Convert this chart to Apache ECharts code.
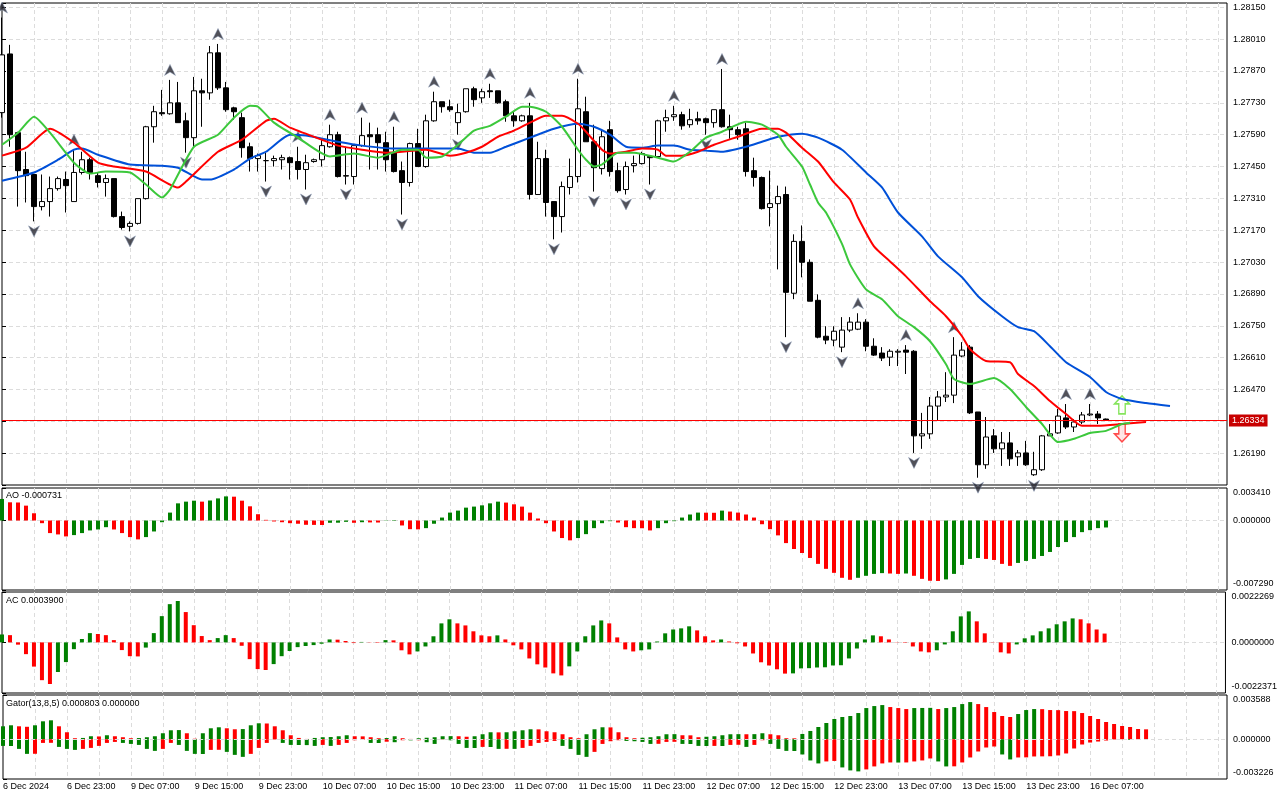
<!DOCTYPE html>
<html>
<head>
<meta charset="utf-8">
<title>H1 Alligator AO AC Gator</title>
<script src="https://cdn.jsdelivr.net/npm/echarts@6.0.0/dist/echarts.min.js"></script>
<style>
    html, body { margin: 0; padding: 0; background: #fff; }
    #charts { width: 1280px; height: 800px; }
</style>
</head>
<body>
<div id="charts"></div>
<script>

// time labels, one every 8 bars (H1)
var timeLabels = ['6 Dec 2024', '6 Dec 23:00', '9 Dec 07:00', '9 Dec 15:00', '9 Dec 23:00',
    '10 Dec 07:00', '10 Dec 15:00', '10 Dec 23:00', '11 Dec 07:00', '11 Dec 15:00', '11 Dec 23:00',
    '12 Dec 07:00', '12 Dec 15:00', '12 Dec 23:00', '13 Dec 07:00', '13 Dec 15:00', '13 Dec 23:00',
    '16 Dec 07:00'];

var priceTicks = ['1.28150', '1.28010', '1.27870', '1.27730', '1.27590', '1.27450', '1.27310',
    '1.27170', '1.27030', '1.26890', '1.26750', '1.26610', '1.26470', '1.26190'];

var openP = [
    1.27687, 1.27945, 1.27599, 1.27437, 1.27415, 1.27274, 1.27296, 1.27353, 1.27393, 1.27296,
    1.27424, 1.27480, 1.27410, 1.27380, 1.27397, 1.27230, 1.27187, 1.27200, 1.27309, 1.27625,
    1.27687, 1.27682, 1.27730, 1.27651, 1.27577, 1.27783, 1.27774, 1.27950, 1.27796, 1.27708,
    1.27665, 1.27537, 1.27485, 1.27476, 1.27476, 1.27480, 1.27489, 1.27472, 1.27437, 1.27472,
    1.27480, 1.27537, 1.27590, 1.27410, 1.27406, 1.27542, 1.27590, 1.27590, 1.27555, 1.27511,
    1.27432, 1.27380, 1.27551, 1.27450, 1.27651, 1.27735, 1.27713, 1.27643, 1.27691, 1.27792,
    1.27752, 1.27783, 1.27783, 1.27735, 1.27673, 1.27651, 1.27673, 1.27327, 1.27485, 1.27296,
    1.27230, 1.27358, 1.27406, 1.27691, 1.27559, 1.27441, 1.27612, 1.27432, 1.27349, 1.27454,
    1.27463, 1.27494, 1.27494, 1.27651, 1.27669, 1.27678, 1.27634, 1.27660, 1.27660, 1.27643,
    1.27700, 1.27625, 1.27612, 1.27616, 1.27432, 1.27402, 1.27270, 1.27287, 1.27327, 1.26893,
    1.27121, 1.27029, 1.26862, 1.26704, 1.26687, 1.26656, 1.26731, 1.26735, 1.26766, 1.26660,
    1.26630, 1.26612, 1.26634, 1.26643, 1.26638, 1.26266, 1.26275, 1.26397, 1.26437, 1.26445,
    1.26617, 1.26656, 1.26371, 1.26139, 1.26266, 1.26209, 1.26235, 1.26174, 1.26191, 1.26095,
    1.26117, 1.26266, 1.26279, 1.26345, 1.26305, 1.26327, 1.26358, 1.26362, 1.26340
];
var highP = [
    1.28105, 1.27985, 1.27603, 1.27515, 1.27415, 1.27415, 1.27406, 1.27406, 1.27428, 1.27524,
    1.27515, 1.27489, 1.27424, 1.27415, 1.27397, 1.27252, 1.27209, 1.27309, 1.27629, 1.27717,
    1.27787, 1.27831, 1.27822, 1.27687, 1.27844, 1.27836, 1.27980, 1.27989, 1.27822, 1.27713,
    1.27687, 1.27555, 1.27507, 1.27511, 1.27498, 1.27502, 1.27494, 1.27537, 1.27502, 1.27485,
    1.27568, 1.27634, 1.27603, 1.27537, 1.27542, 1.27665, 1.27643, 1.27621, 1.27603, 1.27625,
    1.27472, 1.27555, 1.27616, 1.27678, 1.27779, 1.27735, 1.27744, 1.27726, 1.27792, 1.27801,
    1.27792, 1.27814, 1.27783, 1.27744, 1.27691, 1.27678, 1.27730, 1.27559, 1.27524, 1.27296,
    1.27384, 1.27485, 1.27836, 1.27757, 1.27634, 1.27612, 1.27651, 1.27467, 1.27472, 1.27498,
    1.27515, 1.27498, 1.27656, 1.27700, 1.27717, 1.27691, 1.27704, 1.27691, 1.27665, 1.27700,
    1.27879, 1.27678, 1.27625, 1.27643, 1.27489, 1.27406, 1.27432, 1.27366, 1.27362, 1.27152,
    1.27191, 1.27042, 1.26888, 1.26748, 1.26748, 1.26788, 1.26788, 1.26805, 1.26779, 1.26695,
    1.26656, 1.26647, 1.26647, 1.26665, 1.26643, 1.26367, 1.26437, 1.26463, 1.26546, 1.26700,
    1.26678, 1.26665, 1.26371, 1.26349, 1.26296, 1.26283, 1.26283, 1.26204, 1.26244, 1.26196,
    1.26270, 1.26318, 1.26384, 1.26406, 1.26340, 1.26371, 1.26406, 1.26375, 1.26342
];
var lowP = [
    1.27665, 1.27537, 1.27274, 1.27292, 1.27209, 1.27257, 1.27230, 1.27344, 1.27248, 1.27296,
    1.27415, 1.27393, 1.27358, 1.27318, 1.27226, 1.27173, 1.27165, 1.27195, 1.27305, 1.27555,
    1.27673, 1.27678, 1.27643, 1.27511, 1.27537, 1.27625, 1.27744, 1.27787, 1.27691, 1.27656,
    1.27489, 1.27428, 1.27428, 1.27384, 1.27450, 1.27437, 1.27393, 1.27393, 1.27349, 1.27467,
    1.27450, 1.27533, 1.27402, 1.27371, 1.27371, 1.27537, 1.27437, 1.27437, 1.27428, 1.27424,
    1.27239, 1.27362, 1.27450, 1.27445, 1.27647, 1.27687, 1.27691, 1.27590, 1.27687, 1.27713,
    1.27730, 1.27752, 1.27726, 1.27647, 1.27625, 1.27647, 1.27305, 1.27327, 1.27230, 1.27130,
    1.27160, 1.27327, 1.27380, 1.27559, 1.27340, 1.27415, 1.27406, 1.27335, 1.27327, 1.27424,
    1.27459, 1.27371, 1.27489, 1.27603, 1.27651, 1.27612, 1.27621, 1.27634, 1.27590, 1.27621,
    1.27621, 1.27572, 1.27568, 1.27406, 1.27362, 1.27261, 1.27187, 1.26998, 1.26700, 1.26867,
    1.26963, 1.26858, 1.26695, 1.26669, 1.26660, 1.26634, 1.26722, 1.26731, 1.26638, 1.26617,
    1.26595, 1.26573, 1.26573, 1.26538, 1.26191, 1.26209, 1.26253, 1.26332, 1.26415, 1.26410,
    1.26612, 1.26362, 1.26082, 1.26121, 1.26191, 1.26134, 1.26134, 1.26134, 1.26134, 1.26090,
    1.26112, 1.26266, 1.26275, 1.26296, 1.26283, 1.26318, 1.26353, 1.26318, 1.26334
];
var closeP = [
    1.27941, 1.27590, 1.27432, 1.27410, 1.27274, 1.27296, 1.27353, 1.27397, 1.27366, 1.27424,
    1.27480, 1.27424, 1.27380, 1.27397, 1.27230, 1.27182, 1.27200, 1.27309, 1.27625, 1.27691,
    1.27682, 1.27730, 1.27643, 1.27577, 1.27783, 1.27774, 1.27950, 1.27796, 1.27700, 1.27691,
    1.27533, 1.27485, 1.27498, 1.27476, 1.27485, 1.27489, 1.27467, 1.27437, 1.27467, 1.27480,
    1.27542, 1.27590, 1.27406, 1.27408, 1.27542, 1.27586, 1.27581, 1.27555, 1.27480, 1.27428,
    1.27380, 1.27551, 1.27450, 1.27651, 1.27735, 1.27713, 1.27700, 1.27687, 1.27792, 1.27744,
    1.27779, 1.27779, 1.27730, 1.27673, 1.27651, 1.27673, 1.27327, 1.27485, 1.27292, 1.27230,
    1.27362, 1.27406, 1.27704, 1.27559, 1.27445, 1.27581, 1.27428, 1.27344, 1.27450, 1.27463,
    1.27507, 1.27489, 1.27651, 1.27665, 1.27678, 1.27629, 1.27656, 1.27651, 1.27643, 1.27700,
    1.27625, 1.27612, 1.27590, 1.27428, 1.27402, 1.27265, 1.27287, 1.27318, 1.26897, 1.27121,
    1.27029, 1.26858, 1.26700, 1.26687, 1.26726, 1.26731, 1.26766, 1.26766, 1.26660, 1.26621,
    1.26608, 1.26638, 1.26638, 1.26634, 1.26266, 1.26275, 1.26397, 1.26437, 1.26445, 1.26621,
    1.26643, 1.26367, 1.26139, 1.26261, 1.26209, 1.26235, 1.26165, 1.26191, 1.26139, 1.26117,
    1.26266, 1.26275, 1.26353, 1.26305, 1.26327, 1.26358, 1.26362, 1.26345, 1.26334
];
var lastPrice = 1.26334;

// alligator lines (jaw / teeth / lips), already shifted forward
var jawPts = [[0,1.27388],[4,1.27424],[7,1.27480],[9,1.27524],[10,1.27529],[12,1.27502],[16,1.27459],
    [20,1.27454],[22,1.27445],[25,1.27393],[26,1.27393],[29,1.27437],[31,1.27485],[33,1.27515],
    [36,1.27590],[38,1.27586],[42,1.27559],[45,1.27542],[49,1.27529],[57,1.27529],[59,1.27511],
    [61,1.27511],[63,1.27537],[66,1.27577],[69,1.27616],[72,1.27638],[74,1.27625],[76,1.27590],
    [78,1.27537],[80,1.27533],[82,1.27542],[84,1.27542],[86,1.27524],[88,1.27520],[90,1.27515],
    [93,1.27537],[95,1.27559],[97,1.27581],[100,1.27594],[102,1.27577],[105,1.27524],[108,1.27424],
    [110,1.27358],[112,1.27248],[115,1.27143],[117,1.27055],[120,1.26963],[122,1.26880],[125,1.26792],
    [127,1.26744],[129,1.26726],[131,1.26660],[133,1.26590],[136,1.26525],[138,1.26459],[140,1.26428],
    [143,1.26410],[146,1.26397]];
var teethPts = [[0,1.27498],[3,1.27533],[6,1.27616],[9,1.27555],[12,1.27467],[14,1.27450],[18,1.27428],
    [22,1.27358],[23,1.27384],[27,1.27515],[30,1.27568],[33,1.27651],[34,1.27660],[36,1.27621],
    [40,1.27568],[42,1.27542],[45,1.27524],[48,1.27511],[50,1.27515],[53,1.27524],[56,1.27498],
    [58,1.27511],[60,1.27537],[62,1.27581],[64,1.27608],[66,1.27643],[68,1.27673],[70,1.27673],
    [72,1.27638],[73,1.27603],[75,1.27524],[76,1.27507],[78,1.27515],[80,1.27529],[82,1.27524],
    [83,1.27498],[85,1.27498],[87,1.27515],[89,1.27546],[92,1.27581],[95,1.27616],[97,1.27616],
    [98,1.27599],[100,1.27533],[102,1.27472],[104,1.27380],[106,1.27305],[107,1.27226],[109,1.27099],
    [111,1.27033],[113,1.26967],[116,1.26858],[118,1.26792],[120,1.26704],[121,1.26647],[123,1.26595],
    [126,1.26590],[127,1.26538],[129,1.26485],[131,1.26419],[133,1.26362],[135,1.26310],[137,1.26310],
    [140,1.26318],[143,1.26327]];
var lipsPts = [[0,1.27546],[2,1.27599],[4,1.27669],[6,1.27599],[9,1.27467],[11,1.27419],[13,1.27428],
    [16,1.27424],[18,1.27371],[20,1.27314],[21,1.27349],[24,1.27537],[27,1.27590],[29,1.27665],
    [31,1.27717],[32,1.27713],[34,1.27643],[37,1.27577],[41,1.27494],[44,1.27507],[47,1.27489],
    [50,1.27524],[52,1.27524],[53,1.27489],[55,1.27494],[57,1.27546],[59,1.27608],[61,1.27629],
    [63,1.27669],[65,1.27713],[66,1.27713],[68,1.27691],[70,1.27625],[72,1.27524],[73,1.27480],
    [74,1.27450],[75,1.27459],[77,1.27511],[79,1.27511],[82,1.27489],[84,1.27472],[86,1.27515],
    [88,1.27577],[90,1.27603],[93,1.27647],[95,1.27634],[97,1.27590],[98,1.27537],[100,1.27450],
    [101,1.27371],[102,1.27292],[103,1.27248],[105,1.27110],[106,1.27020],[108,1.26910],[110,1.26867],
    [112,1.26792],[114,1.26744],[116,1.26682],[118,1.26581],[119,1.26516],[121,1.26494],[124,1.26520],
    [126,1.26472],[128,1.26393],[130,1.26318],[132,1.26239],[134,1.26253],[136,1.26279],[138,1.26288],
    [140,1.26318],[141,1.26323]];

var fractalUp = [0, 9, 21, 27, 37, 41, 45, 49, 54, 61, 66, 72, 84, 90, 107, 113, 119, 133, 136];
var fractalDown = [4, 16, 23, 33, 38, 43, 50, 57, 69, 74, 78, 81, 88, 98, 105, 114, 122, 129];
var signalUp = [[140, 1.26402]];
var signalDown = [[140, 1.26279]];

var aoValues = [
    0.00226, 0.00191, 0.00189, 0.00156, 0.00076, -0.00028, -0.00132, -0.00146, -0.00167, -0.00153,
    -0.00132, -0.00104, -0.00094, -0.00070, -0.00094, -0.00132, -0.00174, -0.00198, -0.00174, -0.00115,
    -0.00018, 0.00083, 0.00180, 0.00198, 0.00208, 0.00198, 0.00210, 0.00232, 0.00253, 0.00250,
    0.00208, 0.00149, 0.00066, 0.00007, -0.00010, -0.00018, -0.00028, -0.00034, -0.00045, -0.00046,
    -0.00047, -0.00024, -0.00023, -0.00014, -0.00024, -0.00018, -0.00020, -0.00021, -0.00003, 0.00005,
    -0.00052, -0.00091, -0.00093, -0.00080, -0.00034, 0.00031, 0.00083, 0.00104, 0.00135, 0.00146,
    0.00159, 0.00180, 0.00198, 0.00188, 0.00170, 0.00146, 0.00083, 0.00021, -0.00028, -0.00115,
    -0.00184, -0.00208, -0.00184, -0.00143, -0.00080, -0.00028, -0.00007, -0.00021, -0.00070, -0.00080,
    -0.00081, -0.00104, -0.00080, -0.00028, -0.00007, 0.00031, 0.00063, 0.00083, 0.00082, 0.00081,
    0.00104, 0.00094, 0.00083, 0.00063, 0.00031, -0.00039, -0.00091, -0.00156, -0.00237, -0.00299,
    -0.00341, -0.00393, -0.00455, -0.00507, -0.00549, -0.00601, -0.00622, -0.00601, -0.00580, -0.00560,
    -0.00552, -0.00556, -0.00560, -0.00556, -0.00580, -0.00612, -0.00632, -0.00634, -0.00618, -0.00560,
    -0.00466, -0.00403, -0.00393, -0.00403, -0.00414, -0.00455, -0.00476, -0.00445, -0.00424, -0.00403,
    -0.00372, -0.00330, -0.00278, -0.00226, -0.00174, -0.00122, -0.00101, -0.00080, -0.000731
];
var acValues = [
    0.00035, 0.00032, -0.00010, -0.00052, -0.00107, -0.00167, -0.00184, -0.00131, -0.00087, -0.00030,
    0.00015, 0.00041, 0.00037, 0.00032, 0.00010, -0.00034, -0.00061, -0.00062, -0.00023, 0.00041,
    0.00116, 0.00169, 0.00183, 0.00134, 0.00076, 0.00028, 0.00010, 0.00019, 0.00032, 0.00019,
    -0.00015, -0.00074, -0.00118, -0.00122, -0.00096, -0.00061, -0.00038, -0.00021, -0.00016, -0.00012,
    -0.00006, 0.00013, 0.00012, 0.00006, -0.00003, 0.00002, -0.00001, -0.00002, 0.00010, 0.00009,
    -0.00035, -0.00053, -0.00040, -0.00018, 0.00027, 0.00084, 0.00102, 0.00084, 0.00075, 0.00049,
    0.00031, 0.00027, 0.00031, 0.00013, -0.00013, -0.00031, -0.00071, -0.00097, -0.00111, -0.00137,
    -0.00146, -0.00106, -0.00040, 0.00027, 0.00075, 0.00097, 0.00084, 0.00022, -0.00031, -0.00040,
    -0.00035, -0.00031, 0.00004, 0.00040, 0.00057, 0.00062, 0.00071, 0.00053, 0.00027, 0.00009,
    0.00013, 0.00004, -0.00004, -0.00018, -0.00049, -0.00088, -0.00102, -0.00119, -0.00138, -0.00137,
    -0.00115, -0.00114, -0.00111, -0.00110, -0.00102, -0.00101, -0.00071, -0.00027, 0.00013, 0.00031,
    0.00027, 0.00013, -0.00001, -0.00002, -0.00018, -0.00040, -0.00044, -0.00035, -0.00009, 0.00049,
    0.00115, 0.00137, 0.00093, 0.00040, -0.00001, -0.00044, -0.00049, -0.00009, 0.00018, 0.00031,
    0.00049, 0.00062, 0.00080, 0.00093, 0.00106, 0.00102, 0.00084, 0.00057, 0.00039
];
var gatorUp = [
    0.001050, 0.001131, 0.001050, 0.001010, 0.001131, 0.001454, 0.001535, 0.001050, 0.000566, 0.000081,
    0.000105, 0.000242, 0.000226, 0.000323, 0.000242, 0.000162, 0.000081, 0.000097, 0.000162, 0.000242,
    0.000485, 0.000727, 0.000743, 0.000485, 0.000040, 0.000485, 0.000889, 0.000970, 0.000889, 0.000808,
    0.000824, 0.001131, 0.001293, 0.001277, 0.001050, 0.000727, 0.000323, 0.000105, 0.000024, 0.000105,
    0.000162, 0.000178, 0.000242, 0.000323, 0.000242, 0.000234, 0.000162, 0.000081, 0.000097, 0.000242,
    0.000081, 0.000024, 0.000081, 0.000121, 0.000162, 0.000242, 0.000250, 0.000242, 0.000202, 0.000242,
    0.000404, 0.000566, 0.000558, 0.000566, 0.000646, 0.000727, 0.000808, 0.000800, 0.000646, 0.000566,
    0.000404, 0.000162, 0.000081, 0.000404, 0.000808, 0.000970, 0.000962, 0.000566, 0.000162, 0.000081,
    0.000121, 0.000162, 0.000242, 0.000404, 0.000412, 0.000323, 0.000315, 0.000162, 0.000202, 0.000242,
    0.000323, 0.000404, 0.000412, 0.000404, 0.000412, 0.000485, 0.000404, 0.000323, 0.000081, 0.000073,
    0.000428, 0.000671, 0.000994, 0.001317, 0.001640, 0.001802, 0.001883, 0.002125, 0.002529, 0.002691,
    0.002771, 0.002610, 0.002529, 0.002448, 0.002529, 0.002537, 0.002545, 0.002448, 0.002529, 0.002610,
    0.002852, 0.003014, 0.002852, 0.002610, 0.002206, 0.001883, 0.001802, 0.002044, 0.002367, 0.002448,
    0.002440, 0.002367, 0.002359, 0.002287, 0.002279, 0.002125, 0.001883, 0.001640, 0.001398, 0.001236,
    0.001075, 0.000994, 0.000832, 0.000803
];
var gatorDown = [
    -0.000541, -0.000549, -0.000784, -0.001188, -0.001180, -0.000299, -0.000291, -0.000622, -0.000784, -0.000865,
    -0.000784, -0.000703, -0.000541, -0.000299, -0.000218, -0.000299, -0.000380, -0.000461, -0.000784, -0.000945,
    -0.000784, -0.000299, -0.000461, -0.000945, -0.001188, -0.001196, -0.000865, -0.000856, -0.001026, -0.001269,
    -0.001430, -0.001188, -0.000703, -0.000299, -0.000024, -0.000299, -0.000461, -0.000469, -0.000477, -0.000541,
    -0.000461, -0.000541, -0.000461, -0.000299, -0.000081, -0.000040, -0.000299, -0.000307, -0.000202, -0.000242,
    -0.000081, -0.000089, -0.000081, -0.000242, -0.000380, -0.000016, -0.000081, -0.000380, -0.000703, -0.000711,
    -0.000622, -0.000630, -0.000784, -0.000776, -0.000784, -0.000703, -0.000541, -0.000299, -0.000218, -0.000137,
    -0.000541, -0.000784, -0.001269, -0.001430, -0.001026, -0.000380, -0.000162, -0.000081, -0.000137, -0.000162,
    -0.000218, -0.000380, -0.000372, -0.000218, -0.000210, -0.000380, -0.000388, -0.000541, -0.000549, -0.000541,
    -0.000549, -0.000461, -0.000452, -0.000622, -0.000461, -0.000081, -0.000380, -0.000784, -0.000945, -0.000953,
    -0.001236, -0.001721, -0.001963, -0.001802, -0.001761, -0.002287, -0.002529, -0.002610, -0.002448, -0.002206,
    -0.001963, -0.001883, -0.001891, -0.001883, -0.001802, -0.001721, -0.001559, -0.001802, -0.002206, -0.002198,
    -0.001883, -0.001479, -0.000994, -0.000671, -0.000590, -0.001236, -0.001640, -0.001479, -0.001471, -0.001398,
    -0.001390, -0.001382, -0.001317, -0.001155, -0.000751, -0.000428, -0.000267, -0.000186, -0.000105, -0.000024,
    0, -0.000057
];

var aoRange = [-0.00729, 0.00341];
var acRange = [-0.0022371, 0.0022269];
var gatorRange = [-0.003226, 0.003588];
var paneTitles = ['AO -0.000731', 'AC 0.0003900', 'Gator(13,8,5) 0.000803 0.000000'];


var FONT = "'Liberation Sans', Arial, sans-serif";
var GREEN = '#008000';
var RED = '#ff0000';
var GRIDLINE = {color: '#dcdcdc', type: [4, 3], width: 1};
var XMAX = 153.125;

function colorBars(vals, useAbs) {
    return vals.map(function (v, i) {
        var up = true;
        if (i > 0) {
            up = useAbs ? Math.abs(v) > Math.abs(vals[i - 1]) : v > vals[i - 1];
        }
        return {value: [i, v], itemStyle: {color: up ? GREEN : RED}};
    });
}

function xAxisFor(gi, withLabels) {
    return {
        type: 'value', gridIndex: gi, min: 0, max: XMAX, interval: 4,
        axisLine: {show: false},
        axisTick: {show: false},
        splitLine: {show: true, showMinLine: false, showMaxLine: false, lineStyle: GRIDLINE},
        axisLabel: withLabels ? {
            show: true, margin: 3, align: 'left', color: '#000', fontFamily: FONT, fontSize: 9,
            showMaxLabel: false,
            formatter: function (v) {
                if (v % 8 !== 0) return '';
                return timeLabels[v / 8] || '';
            }
        } : {show: false}
    };
}

function paneYAxis(gi, range, digits, interval, showSplit) {
    var rich = {
        t: {padding: [10, 0, 0, 0], fontFamily: FONT, fontSize: 9, color: '#000'},
        b: {padding: [0, 0, 12, 0], fontFamily: FONT, fontSize: 9, color: '#000'}
    };
    return {
        type: 'value', gridIndex: gi, position: 'right', min: range[0], max: range[1], interval: interval,
        axisLine: {show: false},
        axisTick: {show: true, length: 4, lineStyle: {color: '#000'}},
        splitLine: {show: showSplit, showMinLine: false, showMaxLine: false, lineStyle: GRIDLINE},
        axisLabel: {
            margin: 6, color: '#000', fontFamily: FONT, fontSize: 9, rich: rich,
            formatter: function (v) {
                var s = v.toFixed(digits);
                if (Math.abs(v - range[1]) < 1e-9) return '{t|' + s + '}';
                if (Math.abs(v - range[0]) < 1e-9) return '{b|' + s + '}';
                if (Math.abs(v) < 1e-9) return (0).toFixed(digits);
                return '';
            }
        }
    };
}

var candles = openP.map(function (o, i) {
    return [i, o, closeP[i], lowP[i], highP[i]];
});

var upArrow = 'path://M5,0 L10,10 L5,7 L0,10 Z';
var downArrow = 'path://M0,0 L5,3 L10,0 L5,10 Z';
var bigUp = 'path://M7,0 L14,8 L10,8 L10,18 L4,18 L4,8 L0,8 Z';
var bigDown = 'path://M4,0 L10,0 L10,10 L14,10 L7,18 L0,10 L4,10 Z';

function lineSeries(name, pts, color) {
    return {
        name: name, type: 'line', xAxisIndex: 0, yAxisIndex: 0, data: pts,
        showSymbol: false, smooth: 0.2, silent: true,
        lineStyle: {color: color, width: 2}
    };
}

function titleAt(text, top) {
    return {text: text, left: 6, top: top, padding: 0,
        textStyle: {fontFamily: FONT, fontSize: 9, fontWeight: 'normal', color: '#000'}};
}

var myChart = echarts.init(document.getElementById('charts'), null, {renderer: 'canvas'});

myChart.setOption({
    animation: false,
    backgroundColor: '#fff',
    title: [titleAt(paneTitles[0], 491), titleAt(paneTitles[1], 596), titleAt(paneTitles[2], 699)],
    grid: [
        {left: 2, top: 3, width: 1225, height: 482, show: true, borderColor: '#000', borderWidth: 1, backgroundColor: '#fff'},
        {left: 2, top: 488, width: 1225, height: 102, show: true, borderColor: '#000', borderWidth: 1, backgroundColor: '#fff'},
        {left: 2, top: 592, width: 1225, height: 101, show: true, borderColor: '#000', borderWidth: 1, backgroundColor: '#fff'},
        {left: 2, top: 695, width: 1225, height: 84, show: true, borderColor: '#000', borderWidth: 1, backgroundColor: '#fff'}
    ],
    xAxis: [xAxisFor(0, false), xAxisFor(1, false), xAxisFor(2, false), xAxisFor(3, true)],
    yAxis: [
        {
            type: 'value', gridIndex: 0, position: 'right', min: 1.26050, max: 1.28169, interval: 0.0014,
            axisLine: {show: false},
            axisTick: {show: true, length: 4, lineStyle: {color: '#000'}},
            splitLine: {show: true, showMinLine: false, showMaxLine: false, lineStyle: GRIDLINE},
            axisLabel: {
                margin: 6, color: '#000', fontFamily: FONT, fontSize: 9,
                formatter: function (v) {
                    var s = v.toFixed(5);
                    return priceTicks.indexOf(s) >= 0 ? s : '';
                }
            }
        },
        paneYAxis(1, aoRange, 6, -aoRange[0], true),
        paneYAxis(2, acRange, 7, -acRange[0], true),
        paneYAxis(3, gatorRange, 6, gatorRange[1] - gatorRange[0], false)
    ],
    series: [
        {
            type: 'candlestick', xAxisIndex: 0, yAxisIndex: 0, data: candles,
            encode: {x: 0, y: [1, 2, 3, 4]},
            barWidth: 5, silent: true,
            itemStyle: {color: '#ffffff', color0: '#000000', borderColor: '#000000', borderColor0: '#000000', borderWidth: 1}
        },
        // current price line and its red box on the price scale
        {
            type: 'line', xAxisIndex: 0, yAxisIndex: 0, clip: false, silent: true,
            data: [[openP.length - 1, lastPrice]], showSymbol: false,
            lineStyle: {opacity: 0},
            markLine: {
                silent: true, symbol: 'none', animation: false, precision: 5,
                lineStyle: {color: '#ff0000', width: 1, type: 'solid'},
                label: {
                    show: true, position: 'end', distance: 2,
                    formatter: lastPrice.toFixed(5),
                    backgroundColor: '#c80000', color: '#fff', padding: [2, 3, 1, 3],
                    fontFamily: FONT, fontSize: 9
                },
                data: [{yAxis: lastPrice}]
            }
        },
        lineSeries('Jaw', jawPts, '#0050d8'),
        lineSeries('Teeth', teethPts, '#ff0000'),
        lineSeries('Lips', lipsPts, '#3cc83c'),
        {
            type: 'scatter', xAxisIndex: 0, yAxisIndex: 0, silent: true,
            data: fractalUp.map(function (i) { return [i, highP[i]]; }),
            symbol: upArrow, symbolSize: [11, 11], symbolOffset: [0, -10],
            itemStyle: {color: '#262630', borderColor: '#8a9ab8', borderWidth: 0.6}
        },
        {
            type: 'scatter', xAxisIndex: 0, yAxisIndex: 0, silent: true,
            data: fractalDown.map(function (i) { return [i, lowP[i]]; }),
            symbol: downArrow, symbolSize: [11, 11], symbolOffset: [0, 10],
            itemStyle: {color: '#262630', borderColor: '#8a9ab8', borderWidth: 0.6}
        },
        {
            type: 'scatter', xAxisIndex: 0, yAxisIndex: 0, silent: true, data: signalUp,
            symbol: bigUp, symbolSize: [15, 18],
            itemStyle: {color: '#ffffff', borderColor: '#66dd33', borderWidth: 1.5}
        },
        {
            type: 'scatter', xAxisIndex: 0, yAxisIndex: 0, silent: true, data: signalDown,
            symbol: bigDown, symbolSize: [15, 18],
            itemStyle: {color: '#ffe0e0', borderColor: '#ff2020', borderWidth: 1.5}
        },
        {
            name: 'AO', type: 'bar', xAxisIndex: 1, yAxisIndex: 1, barWidth: 4, silent: true,
            data: colorBars(aoValues, false)
        },
        {
            name: 'AC', type: 'bar', xAxisIndex: 2, yAxisIndex: 2, barWidth: 4, silent: true,
            data: colorBars(acValues, false)
        },
        {
            name: 'GatorUp', type: 'bar', xAxisIndex: 3, yAxisIndex: 3, barWidth: 4, silent: true, stack: 'gator',
            data: colorBars(gatorUp, true),
            markLine: {
                silent: true, symbol: 'none', animation: false,
                lineStyle: GRIDLINE,
                label: {show: true, position: 'end', distance: 6, formatter: (0).toFixed(6),
                    color: '#000', fontFamily: FONT, fontSize: 9},
                data: [{yAxis: 0}]
            }
        },
        {
            name: 'GatorDown', type: 'bar', xAxisIndex: 3, yAxisIndex: 3, barWidth: 4, silent: true, stack: 'gator',
            data: colorBars(gatorDown, true)
        }
    ]
});

</script>
</body>
</html>
